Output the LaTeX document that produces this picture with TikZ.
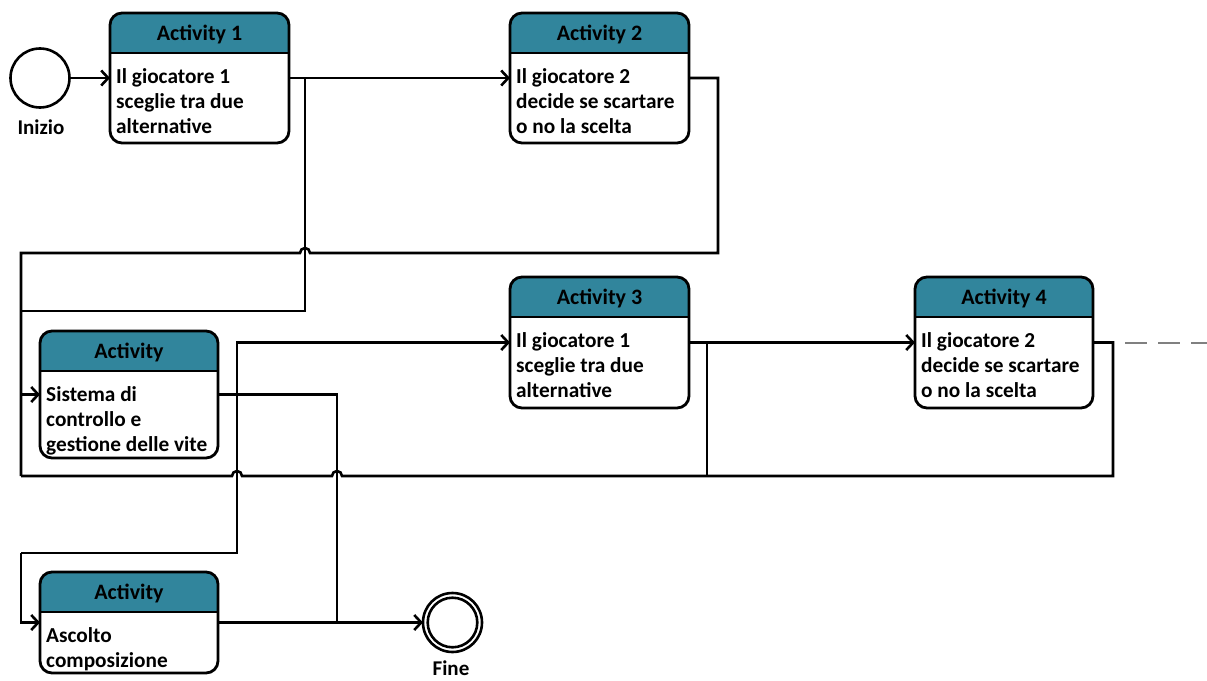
\documentclass[tikz,border=0pt]{standalone}
\usepackage{fontspec}
\setmainfont{Carlito}
\usetikzlibrary{arrows.meta,calc}
\definecolor{hdr}{RGB}{49,133,156}
\definecolor{dashgray}{RGB}{128,128,128}
\tikzset{
  frameline/.style={line width=2.8pt, black},
  actframe/.style={draw, frameline, rounded corners=12pt, inner sep=0pt, outer sep=0pt},
  acttitle/.style={font=\fontsize{22}{26}\selectfont\bfseries, inner sep=0pt, anchor=base},
  bodytext/.style={font=\fontsize{21.3}{25}\selectfont\bfseries, align=left, inner sep=0pt, anchor=north west},
  statelabel/.style={font=\fontsize{21}{25}\selectfont\bfseries, inner sep=0pt, anchor=base},
  wire/.style={line width=2.6pt, black},
  flow/.style={wire, -{Straight Barb[length=7pt,width=15pt]}},
  statering/.style={circle, draw, line width=2.6pt, inner sep=0pt, outer sep=0pt},
}
% activity box: name, left x, top y, width, height, title, body text
\newcommand\activitybox[7]{%
  \begin{scope}
    \clip (#2,#3) rectangle (#2+#4,#3+40);
    \fill[hdr, rounded corners=12pt] (#2,#3) rectangle (#2+#4,#3+#5);
  \end{scope}
  \node[actframe, minimum width=#4pt, minimum height=#5pt, anchor=north west] (#1) at (#2,#3) {};
  \draw[frameline] (#2,#3+40) -- (#2+#4,#3+40);
  \node[acttitle] (#1-title) at (#2+#4/2,#3+27) {#6};
  \node[bodytext] (#1-body) at (#2+6,#3+55) {#7};
}
\begin{document}
\begin{tikzpicture}[x=1pt, y=-1pt]
\useasboundingbox (0,0) rectangle (1207,680);

% states
\node[statering, minimum size=59pt] (start) at (40,78) {};
\node[statelabel] (start-label) at (41,134) {Inizio};
\node[statering, minimum size=59pt] (stop) at (452.5,622.5) {};
\draw[line width=2.6pt] (stop.center) circle[radius=24.8pt];
\node[statelabel] (stop-label) at (451,675.5) {Fine};

% activities
\activitybox{a1}{110}{13}{179}{130}{Activity 1}{Il giocatore 1\\sceglie tra due\\alternative}
\activitybox{a2}{510}{13}{179}{130}{Activity 2}{Il giocatore 2\\decide se scartare\\o no la scelta}
\activitybox{a3}{510}{277}{179}{131}{Activity 3}{Il giocatore 1\\sceglie tra due\\alternative}
\activitybox{a4}{915}{277}{178}{131}{Activity 4}{Il giocatore 2\\decide se scartare\\o no la scelta}
\activitybox{sis}{40}{331}{178}{127}{Activity}{Sistema di\\controllo e\\gestione delle vite}
\activitybox{asc}{40}{572}{178}{101}{Activity}{Ascolto\\composizione}

% junction and bend points
\coordinate (ja1) at (305,78);
\coordinate (ja2) at (718,253);
\coordinate (lt) at (21,253);
\coordinate (la1) at (21,311);
\coordinate (lb) at (21,476);
\coordinate (hopA) at (305,253);
\coordinate (ja3) at (707,342.5);
\coordinate (ja4) at (1113,476);
\coordinate (hopB) at (337,476);
\coordinate (hopC) at (237,476);
\coordinate (js) at (237,394.5);
\coordinate (jm) at (337,622.5);
\coordinate (ju) at (237,553);
\coordinate (jl) at (21,553);
\coordinate (more0) at (1125,343);
\coordinate (more) at (1207,343);

% flows
\draw[flow] (start.east) -- (a1.west);
\draw[flow] (a1.east) -- (a2.west);
\draw[wire] (ja1) |- (la1);
\draw[wire] (a2.east) -| (ja2) -- ($(hopA)+(5,0)$) arc[start angle=0, end angle=180, radius=5pt] -- (lt) -- (lb);
\draw[flow] (lt |- sis.west) -- (sis.west);

\draw[flow] (a3.east) -- (a4.west);
\draw[wire] (ja3) -- (ja3 |- lb);
\draw[wire] (a4.east) -| (ja4) -- ($(hopB)+(5,0)$) arc[start angle=0, end angle=180, radius=5pt]
  -- ($(hopC)+(5,0)$) arc[start angle=0, end angle=180, radius=5pt] -- (lb);
\draw[wire, dashgray, dash pattern=on 22pt off 11pt] (more0) -- (more);

\draw[flow] (js) |- (a3.west);
\draw[wire] (sis.east) -| (jm);
\draw[wire] (js) -- (ju) -- (jl);
\draw[flow] (jl) |- (asc.west);
\draw[flow] (asc.east) -- (stop.west);
\end{tikzpicture}
\end{document}
